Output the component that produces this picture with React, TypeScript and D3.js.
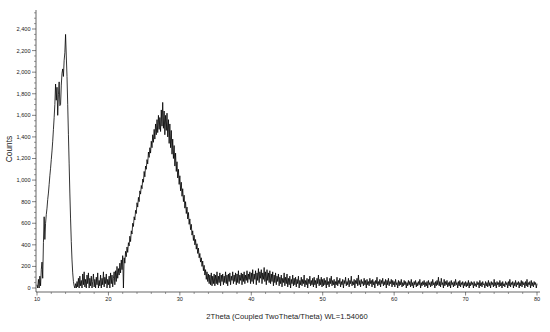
import React from "react";
import * as d3 from "d3";

// measured counts, 0.1 deg 2theta step, one array per decade
const counts10 = [
  30, 0, 80, 0, 110, 20, 170, 240, 90, 420,
  660, 450, 600, 680, 740, 820, 880, 960, 1040, 1110,
  1190, 1270, 1360, 1470, 1580, 1700, 1890, 1740, 1860, 1600,
  1790, 1910, 1690, 1700, 1880, 1990, 2030, 1960, 2110, 2180,
  2350, 2150, 1960, 1700, 1420, 1150, 880, 640, 430, 260,
  140, 60, 20, 0, 40, 0, 60, 10, 90, 0,
  110, 20, 70, 0, 130, 30, 150, 10, 80, 0,
  120, 40, 140, 0, 90, 20, 110, 0, 60, 130,
  10, 80, 0, 100, 30, 140, 0, 70, 20, 120,
  0, 90, 30, 150, 10, 100, 40, 130, 0, 80,
];
const counts20 = [
  30, 110, 0, 140, 40, 120, 10, 90, 150, 30,
  160, 60, 200, 90, 180, 120, 230, 140, 260, 170,
  300, 0, 280, 230, 340, 290, 380, 330, 420, 390,
  480, 430, 530, 500, 600, 570, 660, 630, 720, 690,
  790, 750, 840, 800, 900, 870, 950, 920, 1010, 980,
  1080, 1030, 1130, 1100, 1190, 1150, 1260, 1210, 1300, 1250,
  1360, 1300, 1420, 1350, 1470, 1380, 1520, 1420, 1560, 1440,
  1600, 1470, 1580, 1450, 1650, 1500, 1720, 1480, 1640, 1420,
  1600, 1460, 1620, 1400, 1560, 1340, 1520, 1300, 1460, 1240,
  1380, 1200, 1320, 1130, 1250, 1080, 1170, 1020, 1100, 960,
];
const counts30 = [
  1040, 900, 980, 850, 920, 800, 860, 740, 800, 690,
  750, 640, 700, 590, 640, 540, 590, 490, 530, 440,
  490, 400, 450, 360, 410, 320, 370, 280, 320, 240,
  280, 200, 250, 160, 210, 120, 170, 80, 150, 60,
  130, 40, 120, 30, 140, 20, 110, 40, 130, 20,
  120, 40, 150, 30, 110, 50, 140, 20, 120, 60,
  130, 30, 110, 50, 150, 40, 120, 20, 130, 60,
  140, 30, 110, 70, 150, 40, 120, 60, 140, 30,
  130, 50, 160, 40, 120, 70, 140, 30, 130, 60,
  150, 40, 120, 70, 160, 50, 130, 80, 150, 40,
];
const counts40 = [
  140, 60, 170, 40, 130, 80, 160, 30, 140, 70,
  180, 50, 150, 90, 170, 40, 140, 80, 190, 60,
  150, 30, 170, 70, 140, 50, 160, 40, 130, 60,
  150, 20, 120, 50, 140, 30, 110, 60, 130, 20,
  100, 40, 120, 10, 90, 50, 140, 20, 100, 40,
  130, 10, 90, 30, 110, 0, 80, 40, 120, 20,
  90, 30, 100, 10, 80, 40, 110, 0, 70, 30,
  100, 20, 80, 40, 120, 10, 70, 30, 90, 0,
  80, 40, 110, 20, 70, 30, 90, 10, 100, 30,
  70, 0, 90, 40, 120, 20, 80, 30, 100, 10,
];
const counts50 = [
  80, 20, 90, 30, 70, 0, 100, 30, 60, 10,
  90, 40, 110, 20, 70, 30, 80, 0, 60, 30,
  100, 20, 70, 40, 90, 10, 60, 30, 80, 0,
  70, 40, 100, 20, 60, 30, 90, 10, 70, 40,
  110, 20, 60, 30, 80, 0, 70, 40, 90, 20,
  120, 30, 70, 10, 80, 40, 60, 20, 90, 30,
  70, 0, 80, 30, 60, 20, 90, 40, 70, 10,
  80, 30, 60, 0, 70, 40, 100, 20, 60, 30,
  80, 10, 70, 40, 90, 20, 60, 30, 80, 0,
  70, 30, 90, 20, 60, 40, 80, 10, 70, 30,
];
const counts60 = [
  60, 10, 80, 30, 50, 0, 70, 20, 60, 30,
  80, 10, 50, 20, 70, 30, 60, 0, 50, 20,
  70, 30, 60, 10, 80, 20, 50, 0, 60, 30,
  70, 10, 50, 20, 60, 30, 80, 0, 50, 20,
  60, 30, 70, 10, 50, 20, 60, 0, 70, 30,
  50, 10, 60, 20, 80, 30, 50, 0, 60, 20,
  70, 30, 100, 20, 60, 10, 90, 30, 50, 0,
  80, 20, 60, 30, 70, 10, 50, 20, 60, 0,
  70, 30, 50, 10, 60, 20, 80, 30, 50, 0,
  60, 20, 70, 10, 50, 30, 60, 0, 50, 20,
];
const counts70 = [
  60, 10, 50, 20, 70, 0, 50, 20, 60, 30,
  50, 0, 60, 20, 40, 10, 60, 30, 50, 0,
  70, 20, 50, 10, 60, 30, 40, 0, 60, 20,
  50, 10, 70, 20, 50, 0, 60, 30, 50, 10,
  80, 20, 50, 0, 60, 30, 50, 10, 70, 20,
  50, 0, 60, 20, 40, 10, 60, 30, 50, 0,
  60, 20, 80, 10, 50, 30, 60, 0, 50, 20,
  70, 10, 50, 30, 60, 0, 50, 20, 70, 10,
  60, 30, 50, 0, 60, 20, 80, 10, 50, 30,
  60, 0, 70, 20, 50, 10, 60, 30, 50, 0,
  40,
];
const segmentStarts = [10, 20, 30, 40, 50, 60, 70];
const step = 0.1;

const xTicks = [10, 20, 30, 40, 50, 60, 70, 80];
const yTicks = [0, 200, 400, 600, 800, 1000, 1200, 1400, 1600, 1800, 2000, 2200, 2400];
const xTitle = "2Theta (Coupled TwoTheta/Theta) WL=1.54060";
const yTitle = "Counts";

const W = 550;
const H = 332;
const axisX = 36;
const axisY = 292;
const font = "'Liberation Sans', Arial, sans-serif";

export default function App() {
  const segments = [counts10, counts20, counts30, counts40, counts50, counts60, counts70];
  const points: [number, number][] = [];
  segments.forEach((arr, s) => {
    arr.forEach((v, i) => points.push([segmentStarts[s] + i * step, v]));
  });

  const x = d3.scaleLinear().domain([10, 80]).range([37, 537]);
  const y = d3.scaleLinear().domain([0, 2400]).range([288, 29]);

  const line = d3
    .line<[number, number]>()
    .x((d) => x(d[0]))
    .y((d) => y(d[1]));

  const yMinor = d3.range(0, 2551, 50).filter((v) => v % 200 !== 0);
  const xMinor = d3.range(10, 80.01, 2).filter((v) => v % 10 !== 0);

  return (
    <svg
      width={W}
      height={H}
      style={{ position: "absolute", left: 0, top: 0, background: "#fff" }}
    >
      {/* y axis */}
      <line x1={axisX} x2={axisX} y1={10} y2={axisY} stroke="#000" strokeWidth={0.6} />
      {yMinor.map((v) => (
        <line key={"ym" + v} x1={axisX - 2} x2={axisX} y1={y(v)} y2={y(v)} stroke="#555" strokeWidth={0.6} />
      ))}
      {yTicks.map((v) => (
        <g key={"y" + v}>
          <line x1={axisX - 4} x2={axisX} y1={y(v)} y2={y(v)} stroke="#333" strokeWidth={0.6} />
          <text
            x={axisX - 5.5}
            y={y(v)}
            dy="0.35em"
            textAnchor="end"
            fontFamily={font}
            fontSize={5.6}
            fill="#222"
          >
            {d3.format(",")(v)}
          </text>
        </g>
      ))}

      {/* x axis */}
      <line x1={axisX} x2={540} y1={axisY} y2={axisY} stroke="#000" strokeWidth={0.6} />
      {xMinor.map((v) => (
        <line key={"xm" + v} x1={x(v)} x2={x(v)} y1={axisY} y2={axisY + 2} stroke="#555" strokeWidth={0.6} />
      ))}
      {xTicks.map((v) => (
        <g key={"x" + v}>
          <line x1={x(v)} x2={x(v)} y1={axisY} y2={axisY + 3.5} stroke="#333" strokeWidth={0.6} />
          <text
            x={x(v)}
            y={axisY + 8.5}
            textAnchor="middle"
            fontFamily={font}
            fontSize={5.6}
            fill="#222"
          >
            {v}
          </text>
        </g>
      ))}

      <path d={line(points) ?? ""} fill="none" stroke="#000" strokeWidth={0.8} />

      <text x={287} y={319} textAnchor="middle" fontFamily={font} fontSize={7.6} fill="#222">
        {xTitle}
      </text>
      <text
        transform="translate(12,149) rotate(-90)"
        textAnchor="middle"
        fontFamily={font}
        fontSize={8.4}
        fill="#222"
      >
        {yTitle}
      </text>
    </svg>
  );
}
